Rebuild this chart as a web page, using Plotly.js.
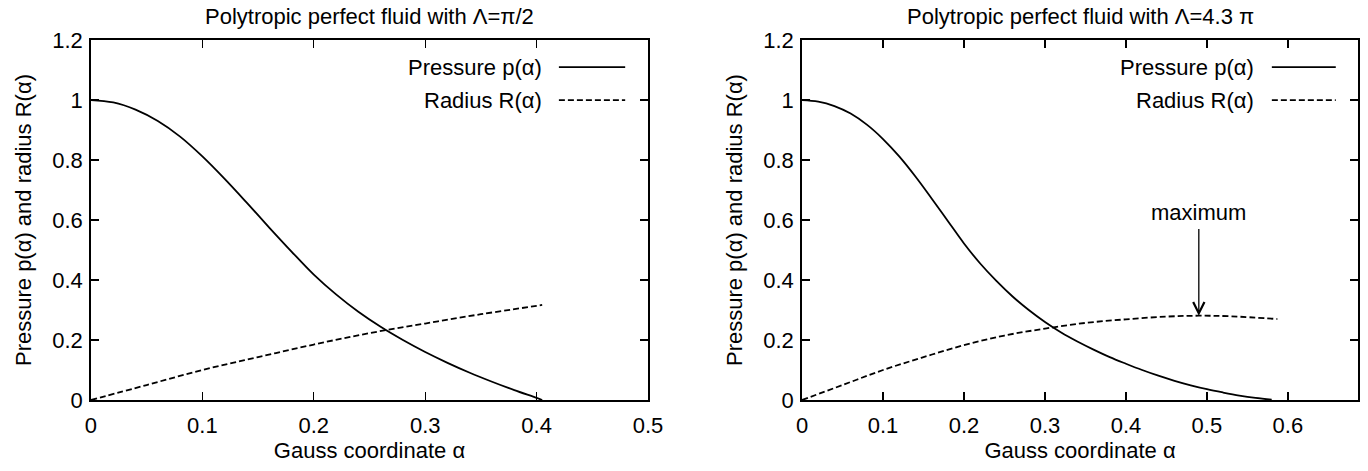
<!DOCTYPE html>
<html>
<head>
<meta charset="utf-8">
<script src="https://cdn.plot.ly/plotly-3.0.1.min.js"></script>
<style>html,body{margin:0;padding:0;background:#fff;}#chart{width:1368px;height:471px;}</style>
</head>
<body>
<div id="chart"></div>
<script>
// Left panel: Lambda = pi/2
const alphaP1 = [0, 0.02, 0.04, 0.06, 0.08, 0.10, 0.12, 0.14, 0.16, 0.18, 0.20, 0.22, 0.24, 0.26, 0.28, 0.30, 0.32, 0.34, 0.36, 0.38, 0.40, 0.405];
const pressure1 = [1.0, 0.992, 0.968, 0.930, 0.878, 0.812, 0.737, 0.657, 0.575, 0.495, 0.418, 0.352, 0.294, 0.244, 0.200, 0.160, 0.124, 0.091, 0.061, 0.033, 0.007, 0.0];
const alphaR1 = [0, 0.05, 0.10, 0.15, 0.20, 0.25, 0.30, 0.35, 0.40, 0.405];
const radius1 = [0, 0.05, 0.10, 0.143, 0.185, 0.223, 0.255, 0.286, 0.314, 0.317];

// Right panel: Lambda = 4.3 pi
const alphaP2 = [0, 0.02, 0.04, 0.06, 0.08, 0.10, 0.12, 0.14, 0.16, 0.18, 0.20, 0.22, 0.24, 0.26, 0.28, 0.30, 0.32, 0.34, 0.36, 0.38, 0.40, 0.42, 0.44, 0.46, 0.48, 0.50, 0.52, 0.54, 0.56, 0.58];
const pressure2 = [1.0, 0.995, 0.98, 0.955, 0.918, 0.870, 0.812, 0.745, 0.672, 0.597, 0.522, 0.455, 0.397, 0.345, 0.300, 0.260, 0.225, 0.195, 0.168, 0.143, 0.121, 0.100, 0.081, 0.064, 0.049, 0.036, 0.025, 0.015, 0.007, 0.001];
const alphaR2 = [0, 0.05, 0.10, 0.15, 0.20, 0.25, 0.30, 0.35, 0.40, 0.45, 0.49, 0.53, 0.587];
const radius2 = [0, 0.05, 0.10, 0.143, 0.183, 0.215, 0.238, 0.257, 0.269, 0.278, 0.281, 0.279, 0.27];

const maxAlpha2 = 0.49;
const maxR2 = 0.281;

const titles = ['Polytropic perfect fluid with Λ=π/2', 'Polytropic perfect fluid with Λ=4.3 π'];
const xTitle = 'Gauss coordinate α';
const yTitle = 'Pressure p(α) and radius R(α)';
const legendNames = ['Pressure p(α)', 'Radius R(α)'];
const xTicks1 = [0, 0.1, 0.2, 0.3, 0.4, 0.5];
const xTicks2 = [0, 0.1, 0.2, 0.3, 0.4, 0.5, 0.6];
const yTicks = [0, 0.2, 0.4, 0.6, 0.8, 1, 1.2];

const FONT = 'Liberation Sans, Arial, Helvetica, sans-serif';
const fs = 22;
const solid = {color: '#000', width: 1.8};
const dashed = {color: '#000', width: 1.8, dash: '6px,3px'};

const traces = [
  {x: alphaP1, y: pressure1, xaxis: 'x', yaxis: 'y', mode: 'lines', line: Object.assign({shape: 'spline'}, solid), showlegend: false},
  {x: alphaR1, y: radius1, xaxis: 'x', yaxis: 'y', mode: 'lines', line: Object.assign({shape: 'spline'}, dashed), showlegend: false},
  {x: alphaP2, y: pressure2, xaxis: 'x2', yaxis: 'y2', mode: 'lines', line: Object.assign({shape: 'spline'}, solid), showlegend: false},
  {x: alphaR2, y: radius2, xaxis: 'x2', yaxis: 'y2', mode: 'lines', line: Object.assign({shape: 'spline'}, dashed), showlegend: false}
];

function xax(domain, range, ticks, anchor) {
  return {
    domain: domain, range: range, anchor: anchor,
    tickmode: 'array', tickvals: ticks, ticktext: ticks.map(String),
    ticks: 'inside', ticklen: 8, tickwidth: 1.3, tickcolor: '#000',
    showline: true, linecolor: '#000', linewidth: 1.8, mirror: 'ticks',
    showgrid: false, zeroline: false, ticklabelstandoff: 5,
    tickfont: {family: FONT, size: fs, color: '#000'},
    title: {text: xTitle, font: {family: FONT, size: fs, color: '#000'}, standoff: 2}
  };
}
function yax(range, anchor) {
  return {
    domain: [0.1507, 0.915], range: range, anchor: anchor,
    tickmode: 'array', tickvals: yTicks, ticktext: yTicks.map(String),
    ticks: 'inside', ticklen: 8, tickwidth: 1.3, tickcolor: '#000',
    showline: true, linecolor: '#000', linewidth: 1.8, mirror: 'ticks',
    showgrid: false, zeroline: false, ticklabelstandoff: 2,
    tickfont: {family: FONT, size: fs, color: '#000'},
    title: {text: yTitle, font: {family: FONT, size: fs, color: '#000'}, standoff: 14}
  };
}

const annotations = [];
const shapes = [];
[['x', 'y', 0.813, 0.840, 0.959], ['x2', 'y2', 0.817, 0.845, 0.960]].forEach(function (p, i) {
  const ys = [0.925, 0.833];
  legendNames.forEach(function (name, j) {
    annotations.push({xref: p[0] + ' domain', yref: p[1] + ' domain', x: p[2], y: ys[j], xanchor: 'right', yanchor: 'middle',
      text: name, showarrow: false, font: {family: FONT, size: fs, color: '#000'}});
    shapes.push({type: 'line', xref: p[0] + ' domain', yref: p[1] + ' domain', x0: p[3], x1: p[4], y0: ys[j], y1: ys[j],
      line: j === 0 ? solid : {color: '#000', width: 1.8, dash: '6px,3px'}});
  });
  annotations.push({xref: p[0] + ' domain', yref: 'paper', x: 0.5, y: 0.995, xanchor: 'center', yanchor: 'top',
    text: titles[i], showarrow: false, font: {family: FONT, size: fs, color: '#000'}});
});
annotations.push({xref: 'x2', yref: 'y2', x: maxAlpha2, y: maxR2, ax: maxAlpha2, ay: 0.575, axref: 'x2', ayref: 'y2',
  text: '', showarrow: true, arrowhead: 5, arrowsize: 1.7, arrowwidth: 1.3, arrowcolor: '#000', standoff: 0});
annotations.push({xref: 'x2', yref: 'y2', x: maxAlpha2, y: 0.625, xanchor: 'center', yanchor: 'middle',
  text: 'maximum', showarrow: false, font: {family: FONT, size: fs, color: '#000'}});

const layout = {
  width: 1368, height: 471,
  margin: {l: 0, r: 0, t: 0, b: 0},
  paper_bgcolor: '#fff', plot_bgcolor: '#fff',
  showlegend: false,
  xaxis: xax([0.0665, 0.4737], [0, 0.5], xTicks1, 'y'),
  yaxis: yax([0, 1.2], 'x'),
  xaxis2: xax([0.5863, 0.9927], [0, 0.6866], xTicks2, 'y2'),
  yaxis2: yax([0, 1.2], 'x2'),
  annotations: annotations,
  shapes: shapes
};

Plotly.newPlot('chart', traces, layout, {staticPlot: true, displayModeBar: false});
</script>
</body>
</html>
